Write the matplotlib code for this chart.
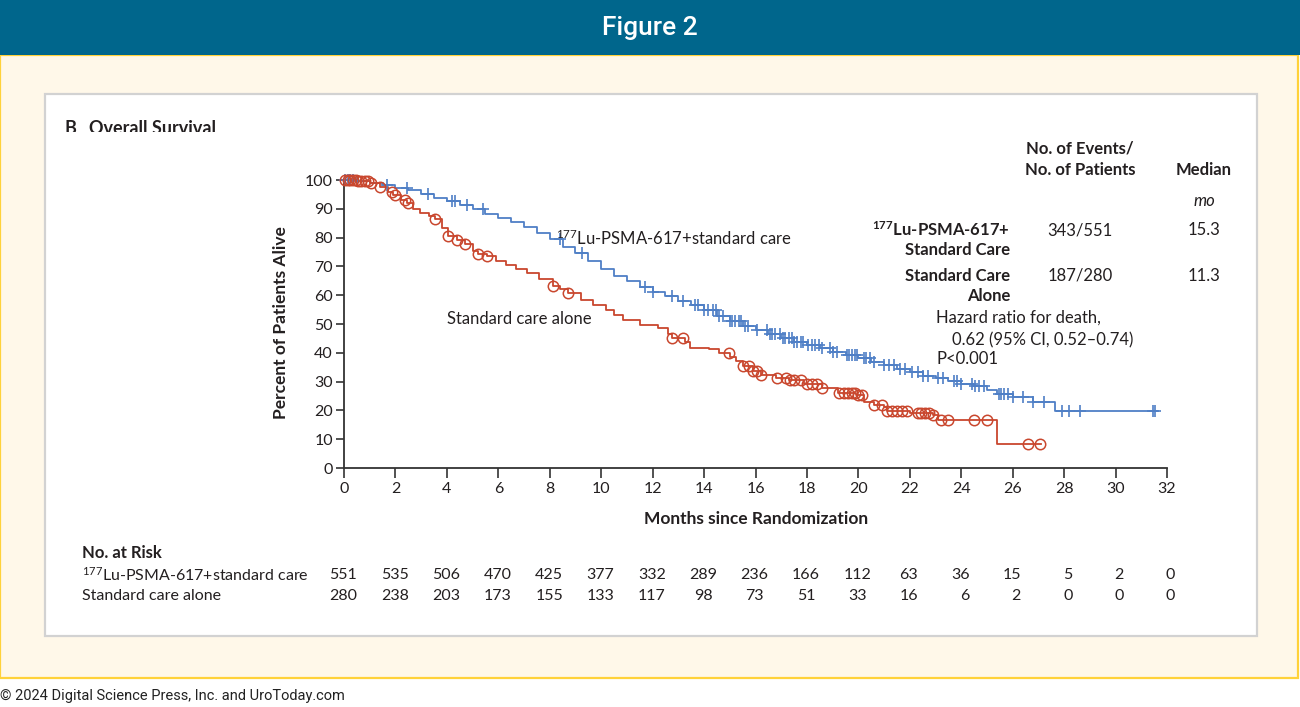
import numpy as np
import matplotlib
matplotlib.use("Agg")
import matplotlib.pyplot as plt
from matplotlib.patches import Rectangle
from matplotlib.transforms import Bbox, TransformedBbox

# ---------------- data ----------------
lu_t = [0, 0.5, 1.0, 1.5, 2.0, 2.5, 3.0, 3.5, 4.0, 4.5, 5.0, 5.5, 6.0, 6.5, 7.0, 7.5, 8.0, 8.5,
        9.0, 9.5, 10.0, 10.5, 11.0, 11.5, 12.0, 12.5, 13.0, 13.5, 14.0, 14.5, 15.0, 15.5, 16.0,
        16.5, 17.0, 17.5, 18.0, 18.5, 19.0, 19.5, 20.0, 20.5, 21.0, 21.5, 22.0, 22.5, 23.0, 23.5,
        24.0, 24.5, 25.0, 25.4, 26.0, 26.8, 27.65, 31.6]
lu_s = [100, 99.7, 99.0, 98.2, 97.3, 96.4, 95.3, 93.8, 92.6, 91.4, 89.8, 88.1, 86.9, 85.5, 83.6,
        81.6, 79.4, 76.8, 74.5, 72.0, 69.2, 66.6, 64.8, 62.7, 61.2, 59.7, 58.0, 56.5, 54.7, 52.9,
        51.2, 49.4, 47.8, 46.6, 45.2, 43.9, 42.7, 41.6, 40.3, 39.2, 38.1, 36.9, 35.6, 34.4, 33.2,
        32.1, 31.1, 30.2, 29.3, 28.3, 27.1, 25.6, 24.8, 23.0, 19.8, 19.8]

sc_t = [0, 0.5, 1.0, 1.4, 1.7, 1.9, 2.2, 2.45, 2.7, 2.95, 3.3, 3.54, 3.8, 4.04, 4.4, 4.7, 5.0,
        5.2, 5.55, 5.9, 6.3, 6.7, 7.1, 7.6, 8.13, 8.4, 8.7, 9.2, 9.7, 10.2, 10.5, 10.85, 11.5,
        12.2, 12.6, 12.75, 13.25, 13.45, 14.2, 14.6, 15.0, 15.25, 15.5, 15.9, 16.2, 16.8, 17.3,
        17.9, 18.6, 19.2, 19.9, 20.2, 20.6, 21.0, 21.1, 22.0, 22.9, 23.1, 25.4, 27.1]
sc_s = [100, 99.6, 99.0, 97.7, 96.0, 94.8, 93.0, 91.9, 90.0, 88.4, 87.5, 86.3, 83.5, 80.7, 79.0,
        77.7, 75.5, 74.2, 73.6, 72.0, 70.5, 69.0, 67.6, 65.5, 63.2, 62.0, 60.6, 58.5, 56.6, 54.9,
        53.0, 51.4, 49.6, 48.5, 46.5, 45.2, 43.9, 41.5, 41.2, 40.0, 38.4, 37.0, 35.4, 33.8, 32.3,
        31.1, 30.5, 29.0, 27.7, 26.0, 25.3, 23.0, 22.0, 21.1, 19.8, 19.2, 18.4, 16.7, 8.2, 8.2]

lu_censor = [0.05, 0.15, 0.25, 0.35, 0.5, 1.67, 2.45, 3.27, 4.2, 4.3, 4.78, 5.4, 8.4, 9.25,
             11.7, 12.0, 12.75, 13.2, 13.65, 13.75, 14.0, 14.15, 14.35, 14.45, 14.6, 14.75,
             15.0, 15.1, 15.2, 15.35, 15.45, 15.6, 15.7, 16.05, 16.45, 16.55, 16.65, 16.75,
             16.95, 17.05, 17.15, 17.3, 17.4, 17.5, 17.6, 17.75, 17.85, 18.05, 18.2, 18.3, 18.45,
             18.6, 18.9, 19.0, 19.15, 19.55, 19.65, 19.75, 19.85, 19.95, 20.2, 20.3, 20.45, 20.6,
             21.0, 21.2, 21.4, 21.6, 21.8, 22.1, 22.3, 22.5, 22.7, 23.1, 23.3, 23.7, 23.85, 24.0,
             24.4, 24.55, 24.7, 24.9, 25.45, 25.55, 25.65, 25.8, 26.0, 26.4, 26.8, 27.2, 27.9,
             28.2, 28.6, 31.45, 31.55]
sc_censor = [0.05, 0.15, 0.25, 0.35, 0.45, 0.55, 0.65, 0.8, 0.95, 1.05, 1.4, 1.87, 1.98, 2.37,
             2.49, 3.54, 4.04, 4.4, 4.7, 5.2, 5.55, 8.13, 8.7, 12.75, 13.2, 14.97, 15.5, 15.75,
             15.9, 16.05, 16.2, 16.85, 17.2, 17.35, 17.5, 17.75, 18.0, 18.2, 18.4, 18.6, 19.25,
             19.45, 19.6, 19.75, 19.85, 20.0, 20.15, 20.6, 20.9, 21.1, 21.3, 21.5, 21.7, 21.9,
             22.3, 22.45, 22.6, 22.75, 22.9, 23.2, 23.5, 24.5, 25.0, 26.6, 27.05]

risk_times = [0, 2, 4, 6, 8, 10, 12, 14, 16, 18, 20, 22, 24, 26, 28, 30, 32]
risk_lu = [551, 535, 506, 470, 425, 377, 332, 289, 236, 166, 112, 63, 36, 15, 5, 2, 0]
risk_sc = [280, 238, 203, 173, 155, 133, 117, 98, 73, 51, 33, 16, 6, 2, 0, 0, 0]

x_ticks = list(range(0, 33, 2))
y_ticks = list(range(0, 101, 10))

# ---------------- style ----------------
plt.rcParams['font.family'] = ['Lato', 'DejaVu Sans']
plt.rcParams['mathtext.fontset'] = 'custom'
plt.rcParams['mathtext.rm'] = 'Lato'
plt.rcParams['mathtext.bf'] = 'Lato:bold'
plt.rcParams['mathtext.it'] = 'Lato:italic'

BLUE = '#4F7FC6'
RED = '#C9472E'
TXT = '#231F20'

W, H = 1300, 707
fig = plt.figure(figsize=(W / 100, H / 100), dpi=100)
fig.patch.set_facecolor('white')


def fx(px):
    return px / W


def fy(py):
    return 1 - py / H


# background boxes
fig.add_artist(Rectangle((0, fy(678)), fx(1298), fy(55) - fy(678), transform=fig.transFigure,
                         facecolor='#FFF8E9', edgecolor='#FFD23A', linewidth=1.6, zorder=-10))
fig.add_artist(Rectangle((0, fy(55)), 1, 1 - fy(55), transform=fig.transFigure,
                         facecolor='#00668C', edgecolor='none', zorder=-9))
fig.add_artist(Rectangle((fx(45), fy(636)), fx(1257) - fx(45), fy(94) - fy(636),
                         transform=fig.transFigure, facecolor='white', edgecolor='#D2D2D2',
                         linewidth=1.6, zorder=-8))

fig.text(0.5, fy(28), 'Figure 2', color='white', fontsize=19, fontweight='medium',
         ha='center', va='center', family=['Roboto', 'DejaVu Sans'])
fig.text(0.0, fy(696), '© 2024 Digital Science Press, Inc. and UroToday.com', color='#222222',
         fontsize=10.5, ha='left', va='center', family=['Roboto', 'DejaVu Sans'])

# panel title (clipped at the bottom like the reference)
clipbox = TransformedBbox(Bbox([[0, fy(132)], [1, 1]]), fig.transFigure)
for x, s in [(65, 'B'), (89, 'Overall Survival')]:
    t = fig.text(fx(x), fy(128), s, fontsize=13, fontweight='bold', color=TXT,
                 ha='left', va='center')
    t.set_clip_box(clipbox)
    t.set_clip_on(True)

# ---------------- axes ----------------
ax = fig.add_axes([fx(344), fy(468), fx(1167) - fx(344), fy(180) - fy(468)])
ax.set_xlim(0, 32)
ax.set_ylim(0, 100)
for sp in ['top', 'right']:
    ax.spines[sp].set_visible(False)
for sp in ['left', 'bottom']:
    ax.spines[sp].set_color('#333333')
    ax.spines[sp].set_linewidth(1.3)
ax.set_xticks(x_ticks)
ax.set_yticks(y_ticks)
ax.tick_params(axis='both', direction='out', length=6, width=1.2, color='#333333',
               labelsize=11.5, labelcolor=TXT, pad=2)
ax.tick_params(axis='x', length=7, pad=3)
ax.patch.set_alpha(0)

ax.step(lu_t, lu_s, where='post', color=BLUE, lw=1.3, zorder=3, clip_on=False)
ax.step(sc_t, sc_s, where='post', color=RED, lw=1.3, zorder=3, clip_on=False)


def step_at(ts, ss, q):
    ts = np.asarray(ts)
    ss = np.asarray(ss)
    idx = np.searchsorted(ts, q, side='right') - 1
    return ss[np.clip(idx, 0, len(ss) - 1)]


ax.plot(lu_censor, step_at(lu_t, lu_s, lu_censor), ls='none', marker='+', ms=9, mew=1.2,
        color=BLUE, zorder=4, clip_on=False)
ax.plot(sc_censor, step_at(sc_t, sc_s, sc_censor), ls='none', marker='o', ms=7.5, mew=1.1,
        mfc='none', mec=RED, zorder=4, clip_on=False)

fig.text(fx(281), fy(323), 'Percent of Patients Alive', rotation=90, fontsize=12.5,
         fontweight='bold', color=TXT, ha='center', va='center')
fig.text(fx(756), fy(519), 'Months since Randomization', fontsize=12.5, fontweight='bold',
         color=TXT, ha='center', va='center')

fig.text(fx(556), fy(238), r'$^{177}$Lu-PSMA-617+standard care', fontsize=12, color=TXT,
         ha='left', va='center')
fig.text(fx(447), fy(319), 'Standard care alone', fontsize=12, color=TXT, ha='left', va='center')

# ---------------- right-hand table ----------------
fs = 12
fig.text(fx(1080), fy(149), 'No. of Events/', fontsize=fs, fontweight='bold', color=TXT,
         ha='center', va='center')
fig.text(fx(1080), fy(170), 'No. of Patients', fontsize=fs, fontweight='bold', color=TXT,
         ha='center', va='center')
fig.text(fx(1204), fy(170), 'Median', fontsize=fs, fontweight='bold', color=TXT,
         ha='center', va='center')
fig.text(fx(1204), fy(201), 'mo', fontsize=fs, fontstyle='italic', color=TXT,
         ha='center', va='center')
fig.text(fx(1010), fy(230), r'$\mathbf{^{177}}$Lu-PSMA-617+', fontsize=fs, fontweight='bold',
         color=TXT, ha='right', va='center')
fig.text(fx(1010), fy(250), 'Standard Care', fontsize=fs, fontweight='bold', color=TXT,
         ha='right', va='center')
fig.text(fx(1010), fy(276), 'Standard Care', fontsize=fs, fontweight='bold', color=TXT,
         ha='right', va='center')
fig.text(fx(1010), fy(296), 'Alone', fontsize=fs, fontweight='bold', color=TXT,
         ha='right', va='center')
fig.text(fx(1080), fy(230), '343/551', fontsize=fs, color=TXT, ha='center', va='center')
fig.text(fx(1080), fy(276), '187/280', fontsize=fs, color=TXT, ha='center', va='center')
fig.text(fx(1204), fy(230), '15.3', fontsize=fs, color=TXT, ha='center', va='center')
fig.text(fx(1204), fy(276), '11.3', fontsize=fs, color=TXT, ha='center', va='center')
fig.text(fx(936), fy(318), 'Hazard ratio for death,', fontsize=fs, color=TXT, ha='left',
         va='center')
fig.text(fx(952), fy(340), '0.62 (95% CI, 0.52\u20130.74)', fontsize=fs, color=TXT, ha='left',
         va='center')
fig.text(fx(936), fy(359), 'P<0.001', fontsize=fs, color=TXT, ha='left', va='center')

# ---------------- number at risk ----------------
fig.text(fx(82), fy(553), 'No. at Risk', fontsize=12, fontweight='bold', color=TXT,
         ha='left', va='center')
fig.text(fx(82), fy(575), r'$^{177}$Lu-PSMA-617+standard care', fontsize=11.5, color=TXT,
         ha='left', va='center')
fig.text(fx(82), fy(596), 'Standard care alone', fontsize=11.5, color=TXT, ha='left',
         va='center')
for row, ypx in [(risk_lu, 575), (risk_sc, 596)]:
    for t, n in zip(risk_times, row):
        off = 9.5 if n >= 100 else 6
        ax.annotate(str(n), xy=(t, fy(ypx)), xycoords=('data', 'figure fraction'),
                    xytext=(off, 0), textcoords='offset points', fontsize=11.5, color=TXT,
                    ha='right', va='center', annotation_clip=False)

fig.savefig('out.png', dpi=100)
